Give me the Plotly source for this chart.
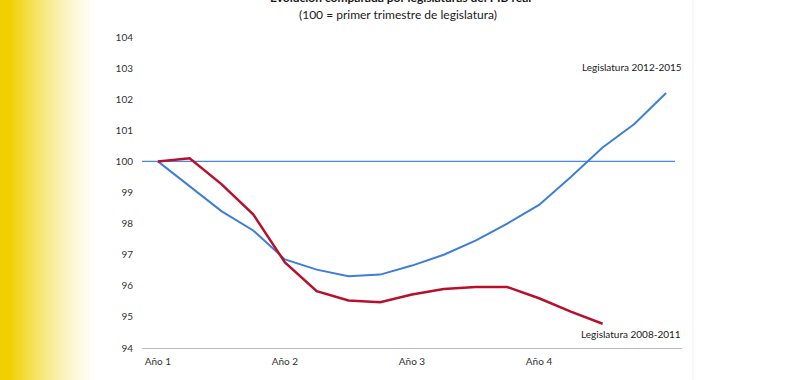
import plotly.graph_objects as go

# ---- data ----
quarters = list(range(17))  # quarter index within the legislature
tick_positions = [0, 4, 8, 12]
tick_labels = ["Año 1", "Año 2", "Año 3", "Año 4"]
y_ticks = [94, 95, 96, 97, 98, 99, 100, 101, 102, 103, 104]

leg_2012_2015 = [100.0, 99.2, 98.4, 97.78, 96.85, 96.52, 96.31, 96.36, 96.65,
                 97.0, 97.45, 98.0, 98.6, 99.5, 100.45, 101.2, 102.2]
leg_2008_2011 = [100.0, 100.1, 99.27, 98.3, 96.75, 95.83, 95.53, 95.47, 95.72,
                 95.9, 95.96, 95.96, 95.6, 95.17, 94.78]
baseline = 100

W, H = 800, 380
FONT = "Lato, 'Open Sans', sans-serif"

fig = go.Figure()

fig.add_trace(go.Scatter(x=quarters[:len(leg_2012_2015)], y=leg_2012_2015, mode="lines",
                         line=dict(color="#3D7FD8", width=2), name="Legislatura 2012-2015",
                         hoverinfo="skip"))
fig.add_trace(go.Scatter(x=quarters[:len(leg_2008_2011)], y=leg_2008_2011, mode="lines",
                         line=dict(color="#B8102C", width=2.5), name="Legislatura 2008-2011",
                         hoverinfo="skip"))

shapes = []
# yellow gradient strip on the left (decoration)
n = 50
strip_w = 100.0
for i in range(n):
    x0 = i * strip_w / n
    x1 = (i + 1) * strip_w / n + 0.5
    xc = (x0 + x1) / 2
    t = max(0.0, min(1.0, (xc - 10) / 88))
    a = (1 - t) ** 1.4
    r = round(255 - (255 - 240) * a)
    g = round(255 - (255 - 208) * a)
    b = round(255 - 255 * a)
    shapes.append(dict(type="rect", xref="paper", yref="paper",
                       x0=x0 / W, x1=x1 / W, y0=0, y1=1,
                       fillcolor=f"rgb({r},{g},{b})", line=dict(width=0), layer="below"))
# faint right edge
shapes.append(dict(type="line", xref="paper", yref="paper", x0=693 / W, x1=693 / W, y0=0, y1=1,
                   line=dict(color="#f1f1f1", width=1)))
# reference line at 100
shapes.append(dict(type="line", xref="x", yref="y", x0=-0.66, x1=16.28, y0=baseline, y1=baseline,
                   line=dict(color="#4A88E0", width=1.2), layer="below"))

annotations = [
    dict(text="<b>Evolución comparada por legislaturas del PIB real</b>", xref="paper", yref="paper",
         x=400 / W, y=(H + 3) / H, xanchor="center", yanchor="middle", showarrow=False,
         font=dict(family=FONT, size=12, color="#1a1a1a")),
    dict(text="(100 = primer trimestre de legislatura)", xref="paper", yref="paper",
         x=398 / W, y=(H - 14) / H, xanchor="center", yanchor="middle", showarrow=False,
         font=dict(family=FONT, size=12, color="#1a1a1a")),
    dict(text="Legislatura 2012-2015", xref="paper", yref="paper",
         x=684 / W, y=(H - 67) / H, xanchor="right", yanchor="middle", showarrow=False,
         font=dict(family=FONT, size=10, color="#1a1a1a")),
    dict(text="Legislatura 2008-2011", xref="paper", yref="paper",
         x=683 / W, y=(H - 334) / H, xanchor="right", yanchor="middle", showarrow=False,
         font=dict(family=FONT, size=10, color="#1a1a1a")),
]

fig.update_layout(
    width=W, height=H, autosize=False,
    margin=dict(l=0, r=0, t=0, b=0),
    paper_bgcolor="white", plot_bgcolor="white",
    showlegend=False,
    shapes=shapes, annotations=annotations,
    xaxis=dict(domain=[142 / W, 682 / W], range=[-0.5, 16.5],
               tickmode="array", tickvals=tick_positions, ticktext=tick_labels,
               showgrid=False, zeroline=False, showline=True, linecolor="#bdbdbd", linewidth=1,
               ticks="", automargin=False, ticklabelstandoff=4,
               tickfont=dict(family=FONT, size=10, color="#333333")),
    yaxis=dict(domain=[(H - 348) / H, (H - 37) / H], range=[94, 104],
               tickmode="array", tickvals=y_ticks,
               showgrid=False, zeroline=False, showline=False,
               ticks="", automargin=False, ticklabelstandoff=8,
               tickfont=dict(family=FONT, size=10, color="#333333")),
)

fig.write_html("out.html",
               config={"displayModeBar": False},
               post_script="document.body.style.margin='0';document.body.style.padding='0';"
                           "document.body.style.overflow='hidden';")
